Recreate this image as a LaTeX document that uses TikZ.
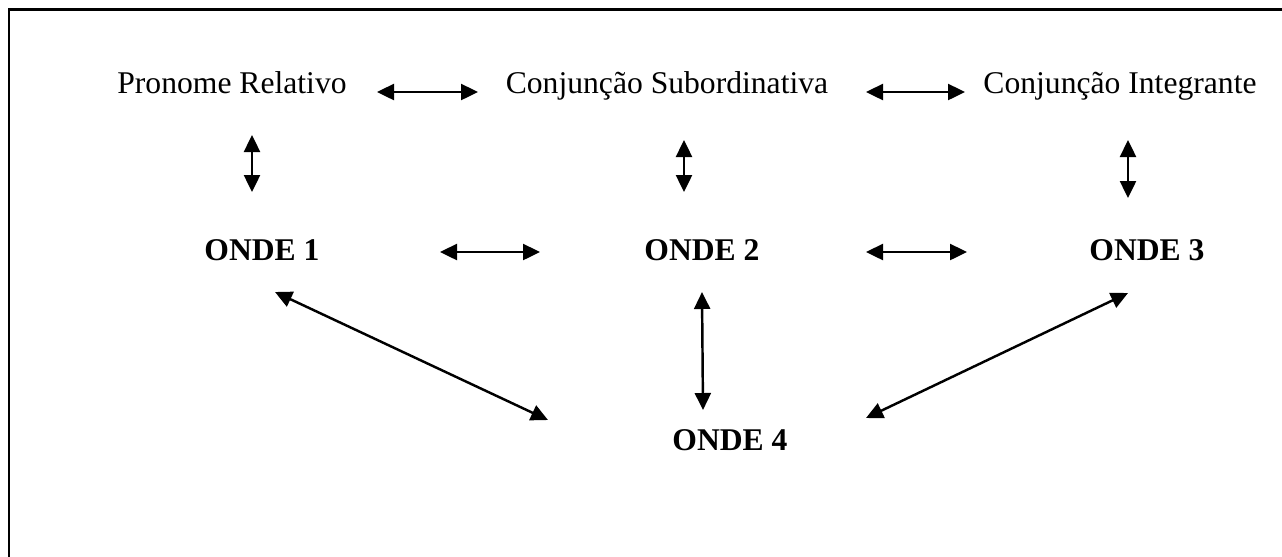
\documentclass[tikz,border=0pt]{standalone}
\usepackage{fontspec}
\setmainfont{Liberation Serif}
\usetikzlibrary{arrows.meta,positioning,calc}
\definecolor{inkblack}{HTML}{000000}
\tikzset{
  termtext/.style={font=\fontsize{18}{22}\selectfont, text=inkblack, inner sep=0pt, anchor=base},
  ondetext/.style={termtext, font=\fontsize{18}{22}\selectfont\bfseries},
  link/.style={{Triangle[length=0.34cm,width=0.32cm]}-{Triangle[length=0.34cm,width=0.32cm]},
    line width=1.4pt, draw=inkblack},
  frame/.style={line width=1.7pt, draw=inkblack}
}

\begin{document}
\begin{tikzpicture}[x=0.02cm, y=-0.02cm]
\useasboundingbox (0,0) rectangle (1282,556);
\draw[frame] (9,9.5) rectangle (1320,600);
% top row
\node[termtext] (pr) at (232,93) {Pronome Relativo};
\node[termtext] (cs) at (667,93) {Conjunção Subordinativa};
\node[termtext] (ci) at (1120,93) {Conjunção Integrante};
% the four onde
\node[ondetext] (o1) at (262,260) {ONDE 1};
\node[ondetext] (o2) at (702,260) {ONDE 2};
\node[ondetext] (o3) at (1147,260) {ONDE 3};
\node[ondetext] (o4) at (730,450) {ONDE 4};
% horizontal links
\draw[link] ([shift={(145,-1)}]pr.base) -- ([shift={(-189,-1)}]cs.base);
\draw[link] ([shift={(199,-1)}]cs.base) -- ([shift={(-155,-1)}]ci.base);
\draw[link] ([shift={(178,-8)}]o1.base) -- ([shift={(-162,-8)}]o2.base);
\draw[link] ([shift={(164,-8)}]o2.base) -- ([shift={(-180,-8)}]o3.base);
% vertical links
\draw[link] ([shift={(20,42)}]pr.base) -- ([shift={(-10,-68)}]o1.base);
\draw[link] ([shift={(17,47)}]cs.base) -- ([shift={(-18,-68)}]o2.base);
\draw[link] ([shift={(8,47)}]ci.base) -- ([shift={(-19,-62)}]o3.base);
% links down to onde 4
\draw[link] ([shift={(13,32)}]o1.base) -- ([shift={(-182,-30)}]o4.base);
\draw[link] ([shift={(0,32)}]o2.base) -- ([shift={(-27,-40)}]o4.base);
\draw[link] ([shift={(-19,33)}]o3.base) -- ([shift={(136,-32)}]o4.base);
\end{tikzpicture}
\end{document}
